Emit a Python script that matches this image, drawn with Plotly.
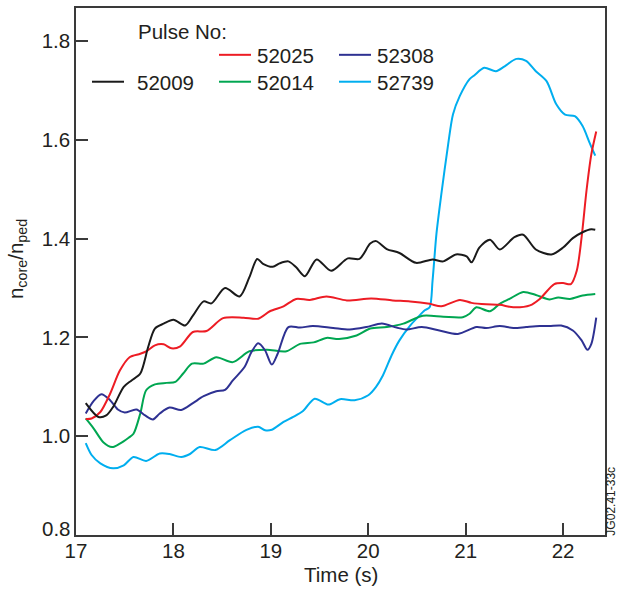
import plotly.graph_objects as go

# ---------------- data ----------------
t_52009 = [17.10, 17.23, 17.31, 17.38, 17.49, 17.57, 17.66, 17.74, 17.81, 17.90, 18.00, 18.12, 18.20,
           18.31, 18.39, 18.53, 18.68, 18.78, 18.86, 18.92, 19.02, 19.09, 19.18, 19.26, 19.35, 19.47,
           19.62, 19.79, 19.91, 20.02, 20.08, 20.19, 20.32, 20.49, 20.66, 20.77, 20.90, 21.01, 21.06,
           21.14, 21.25, 21.35, 21.50, 21.59, 21.72, 21.88, 22.00, 22.10, 22.20, 22.29, 22.33]
n_52009 = [1.067, 1.039, 1.042, 1.059, 1.100, 1.113, 1.127, 1.180, 1.218, 1.228, 1.236, 1.224, 1.244,
           1.273, 1.269, 1.300, 1.283, 1.322, 1.359, 1.349, 1.343, 1.350, 1.354, 1.342, 1.324, 1.358,
           1.335, 1.360, 1.359, 1.390, 1.395, 1.379, 1.371, 1.351, 1.358, 1.354, 1.368, 1.364, 1.352,
           1.382, 1.398, 1.378, 1.403, 1.408, 1.378, 1.368, 1.382, 1.401, 1.413, 1.419, 1.418]

t_52025 = [17.10, 17.16, 17.25, 17.35, 17.45, 17.55, 17.66, 17.73, 17.81, 17.90, 17.98, 18.07, 18.20,
           18.34, 18.51, 18.72, 18.87, 18.99, 19.13, 19.26, 19.40, 19.57, 19.78, 20.03, 20.25, 20.43,
           20.63, 20.75, 20.94, 21.06, 21.21, 21.35, 21.49, 21.66, 21.76, 21.91, 22.00, 22.08, 22.14,
           22.19, 22.24, 22.29, 22.34]
n_52025 = [1.035, 1.036, 1.049, 1.086, 1.133, 1.160, 1.167, 1.173, 1.184, 1.186, 1.178, 1.182, 1.211,
           1.213, 1.239, 1.240, 1.238, 1.253, 1.263, 1.278, 1.276, 1.283, 1.275, 1.279, 1.275, 1.273,
           1.268, 1.263, 1.276, 1.270, 1.267, 1.266, 1.261, 1.265, 1.278, 1.308, 1.310, 1.308, 1.335,
           1.403, 1.497, 1.571, 1.617]

t_52014 = [17.10, 17.18, 17.28, 17.37, 17.45, 17.54, 17.59, 17.66, 17.72, 17.81, 17.93, 18.02, 18.10,
           18.19, 18.31, 18.44, 18.61, 18.78, 18.96, 19.16, 19.30, 19.44, 19.57, 19.70, 19.88, 20.02,
           20.19, 20.36, 20.56, 20.77, 20.97, 21.04, 21.11, 21.25, 21.35, 21.45, 21.59, 21.72, 21.86,
           21.95, 22.07, 22.20, 22.33]
n_52014 = [1.036, 1.016, 0.988, 0.978, 0.985, 0.997, 1.005, 1.046, 1.093, 1.105, 1.108, 1.110, 1.127,
           1.147, 1.147, 1.160, 1.150, 1.172, 1.175, 1.172, 1.187, 1.190, 1.199, 1.197, 1.204, 1.218,
           1.221, 1.228, 1.244, 1.242, 1.241, 1.248, 1.261, 1.253, 1.268, 1.278, 1.292, 1.286, 1.277,
           1.281, 1.278, 1.285, 1.288]

t_52308 = [17.10, 17.18, 17.26, 17.35, 17.43, 17.50, 17.62, 17.71, 17.79, 17.86, 17.96, 18.08, 18.20,
           18.31, 18.44, 18.53, 18.61, 18.73, 18.80, 18.87, 18.94, 19.01, 19.07, 19.18, 19.30, 19.43,
           19.64, 19.81, 19.98, 20.14, 20.29, 20.39, 20.55, 20.73, 20.92, 21.11, 21.21, 21.35, 21.49,
           21.62, 21.76, 21.86, 21.98, 22.10, 22.19, 22.25, 22.29, 22.34]
n_52308 = [1.046, 1.071, 1.085, 1.073, 1.054, 1.048, 1.054, 1.042, 1.034, 1.046, 1.058, 1.053, 1.067,
           1.081, 1.091, 1.094, 1.113, 1.140, 1.170, 1.188, 1.174, 1.145, 1.167, 1.221, 1.220, 1.223,
           1.219, 1.216, 1.221, 1.228, 1.220, 1.216, 1.221, 1.214, 1.207, 1.221, 1.219, 1.223, 1.219,
           1.221, 1.223, 1.223, 1.224, 1.214, 1.194, 1.175, 1.187, 1.240]

t_52739 = [17.10, 17.16, 17.25, 17.38, 17.49, 17.59, 17.72, 17.86, 17.96, 18.08, 18.17, 18.27, 18.43,
           18.58, 18.75, 18.87, 18.94, 19.01, 19.13, 19.23, 19.33, 19.45, 19.59, 19.71, 19.86, 20.00,
           20.08, 20.15, 20.24, 20.32, 20.43, 20.51, 20.58, 20.63, 20.66, 20.70, 20.75, 20.82, 20.87,
           20.94, 21.04, 21.09, 21.19, 21.31, 21.40, 21.52, 21.62, 21.72, 21.83, 21.93, 22.02, 22.12,
           22.20, 22.27, 22.33]
n_52739 = [0.986, 0.962, 0.945, 0.935, 0.941, 0.958, 0.950, 0.965, 0.964, 0.958, 0.964, 0.978, 0.972,
           0.992, 1.013, 1.019, 1.012, 1.013, 1.029, 1.039, 1.051, 1.076, 1.064, 1.075, 1.073, 1.083,
           1.100, 1.123, 1.164, 1.194, 1.224, 1.241, 1.255, 1.261, 1.315, 1.410, 1.490, 1.591, 1.652,
           1.689, 1.723, 1.731, 1.746, 1.739, 1.749, 1.764, 1.760, 1.739, 1.719, 1.672, 1.651, 1.648,
           1.628, 1.595, 1.568]

pulse_labels = ["52009", "52025", "52014", "52308", "52739"]
x_ticks = [17, 18, 19, 20, 21, 22]
y_ticks = [0.8, 1.0, 1.2, 1.4, 1.6, 1.8]

# ---------------- styling ----------------
colors = {"52009": "#1a1a1a", "52025": "#ed1c24", "52014": "#00a651",
          "52308": "#2e3192", "52739": "#00aeef"}
series = {"52009": (t_52009, n_52009), "52025": (t_52025, n_52025), "52014": (t_52014, n_52014),
          "52308": (t_52308, n_52308), "52739": (t_52739, n_52739)}
FONT = "Liberation Sans, Arial, Helvetica, sans-serif"
TXT = "#231f20"
AX = "#3a3a3a"
FS = 20.5

W, H = 618, 592
L, R, T, B = 76, 13, 6, 57
PW, PH = W - L - R, H - T - B


def px(xp):
    return (xp - L) / PW


def py(yp):
    return (H - B - yp) / PH


fig = go.Figure()
draw_order = ["52739", "52014", "52308", "52025", "52009"]
for key in draw_order:
    t, n = series[key]
    fig.add_trace(go.Scatter(x=t, y=n, mode="lines", name=key,
                             line=dict(color=colors[key], width=2, shape="spline", smoothing=0.8),
                             showlegend=False, hoverinfo="skip"))

axis_common = dict(showline=True, linecolor=AX, linewidth=1.5, mirror=True,
                   ticks="inside", ticklen=12, tickwidth=1.5, tickcolor=AX,
                   showgrid=False, zeroline=False,
                   tickfont=dict(family=FONT, size=FS, color=TXT))

fig.update_xaxes(range=[17, 22.43], tickvals=x_ticks, ticktext=[str(v) for v in x_ticks],
                 ticklabelstandoff=-3, **axis_common)
# lowest y label is drawn as an annotation (it sits slightly above the axis in the reference)
y_text = [f"{v:.1f}" for v in y_ticks]
fig.update_yaxes(range=[0.8, 1.867], tickvals=y_ticks, ticktext=[""] + y_text[1:], **axis_common)

annotations = [
    dict(text=y_text[0], x=px(73), y=py(528), xref="paper", yref="paper",
         showarrow=False, xanchor="right", yanchor="middle",
         font=dict(family=FONT, size=FS, color=TXT)),
    dict(text="Time (s)", x=px(341), y=py(575), xref="paper", yref="paper",
         showarrow=False, xanchor="center", yanchor="middle",
         font=dict(family=FONT, size=FS, color=TXT)),
    dict(text="n<sub>core</sub>/n<sub>ped</sub>", x=px(17), y=py(258), xref="paper", yref="paper",
         showarrow=False, textangle=-90, xanchor="center", yanchor="middle",
         font=dict(family=FONT, size=FS, color=TXT)),
    dict(text="JG02.41-33c", x=px(611.5), y=py(501), xref="paper", yref="paper",
         showarrow=False, textangle=-90, xanchor="center", yanchor="middle",
         font=dict(family=FONT, size=12, color=TXT)),
    dict(text="Pulse No:", x=px(136), y=py(30), xref="paper", yref="paper",
         showarrow=False, xanchor="left", yanchor="middle",
         font=dict(family=FONT, size=FS, color=TXT)),
]

# custom legend layout: (line x0, line x1, line y, text x)
legend_pos = {"52009": (92, 124, 80, 135),
              "52025": (219, 251, 53, 255),
              "52014": (219, 251, 80, 255),
              "52308": (339, 371, 53, 375),
              "52739": (339, 371, 80, 375)}
shapes = []
for key in pulse_labels:
    x0, x1, yl, xt = legend_pos[key]
    shapes.append(dict(type="line", xref="paper", yref="paper", x0=px(x0), x1=px(x1),
                       y0=py(yl), y1=py(yl), line=dict(color=colors[key], width=2)))
    annotations.append(dict(text=key, x=px(xt), y=py(yl + 1), xref="paper", yref="paper",
                            showarrow=False, xanchor="left", yanchor="middle",
                            font=dict(family=FONT, size=FS, color=TXT)))

fig.update_layout(width=W, height=H, margin=dict(l=L, r=R, t=T, b=B),
                  paper_bgcolor="white", plot_bgcolor="white",
                  annotations=annotations, shapes=shapes, showlegend=False)

fig.write_html("out.html")
